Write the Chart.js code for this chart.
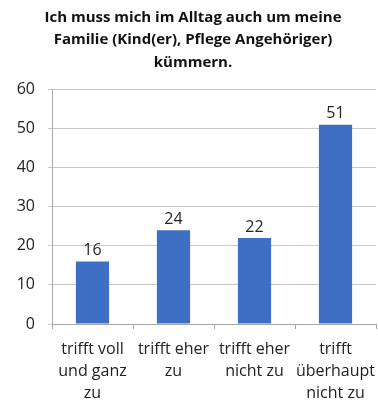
<!DOCTYPE html>
<html>
<head>
<meta charset="utf-8">
<script src="https://cdn.jsdelivr.net/npm/chart.js@4/dist/chart.umd.min.js"></script>
<style>
  html, body { margin: 0; padding: 0; background: #fff; }
  #wrap { width: 378px; height: 403px; position: relative; }
</style>
</head>
<body>
<div id="wrap"><canvas id="chart"></canvas></div>
<script>
// survey answers and shares (%)
const categories = [
    ['trifft voll', 'und ganz', 'zu'],
    ['trifft eher', 'zu'],
    ['trifft eher', 'nicht zu'],
    ['trifft', 'überhaupt', 'nicht zu']
];
const values = [16, 24, 22, 51];
const titleLines = [
    'Ich muss mich im Alltag auch um meine',
    'Familie (Kind(er), Pflege Angehöriger)',
    'kümmern.'
];
const yTicks = [0, 10, 20, 30, 40, 50, 60];

const FONT = "'Open Sans', 'Liberation Sans', sans-serif";

// value labels above each bar
const barLabels = {
    id: 'barLabels',
    afterDatasetsDraw(chart) {
        const ctx = chart.ctx;
        const meta = chart.getDatasetMeta(0);
        ctx.save();
        ctx.font = '16px ' + FONT;
        ctx.fillStyle = '#262626';
        ctx.textAlign = 'center';
        ctx.textBaseline = 'bottom';
        meta.data.forEach((bar, i) => {
            ctx.fillText(String(values[i]), bar.x, bar.y - 3);
        });
        ctx.restore();
    }
};

new Chart(document.getElementById('chart'), {
    type: 'bar',
    data: {
        labels: categories,
        datasets: [{
            data: values,
            backgroundColor: '#3F6FC4',
            categoryPercentage: 1,
            barPercentage: 0.41
        }]
    },
    options: {
        responsive: true,
        maintainAspectRatio: false,
        animation: false,
        layout: { padding: { left: 10, right: 2, top: 6, bottom: 0 } },
        plugins: {
            legend: { display: false },
            tooltip: { enabled: false },
            title: {
                display: true,
                text: titleLines,
                color: '#111',
                font: { family: FONT, size: 15, weight: 'bold', lineHeight: 1.5 },
                padding: { top: 0, bottom: 16 }
            }
        },
        scales: {
            x: {
                offset: true,
                afterFit(scale) {
                    scale.height = 79;
                    // labels fit inside their categories, no side overhang needed
                    scale.paddingLeft = 0;
                    scale.paddingRight = 0;
                },
                grid: {
                    offset: true,
                    drawOnChartArea: false,
                    drawTicks: true,
                    tickLength: 5,
                    color: '#a6a6a6'
                },
                border: { color: '#a6a6a6' },
                ticks: {
                    color: '#222',
                    padding: 10,
                    maxRotation: 0,
                    autoSkip: false,
                    font: { family: FONT, size: 16, lineHeight: 1.35 }
                }
            },
            y: {
                min: 0,
                max: 60,
                afterFit(scale) { scale.width = 42; },
                afterBuildTicks(scale) { scale.ticks = yTicks.map(v => ({ value: v })); },
                grid: { color: '#c9c9c9', tickLength: 4 },
                border: { color: '#a6a6a6' },
                ticks: {
                    color: '#222',
                    padding: 13,
                    font: { family: FONT, size: 16 }
                }
            }
        }
    },
    plugins: [barLabels]
});
</script>
</body>
</html>
